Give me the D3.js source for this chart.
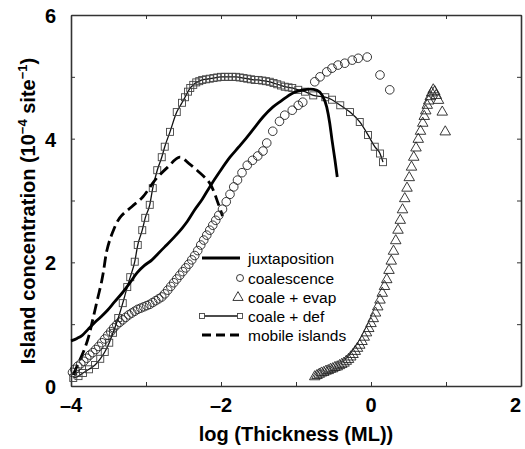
<!DOCTYPE html>
<html><head><meta charset="utf-8">
<script src="https://cdn.jsdelivr.net/npm/d3@7"></script>
<style>body{margin:0;background:#fff}svg{display:block}text{font-family:"Liberation Sans",Arial,sans-serif}</style>
</head><body><div id="chart"></div>
<script>
const xTicks=[-4,-3,-2,-1,0,1,2];
const xTickLabels=[-4,-2,0,2];
const yTicks=[0,1,2,3,4,5,6];
const yTickLabels=[0,2,4,6];
const seriesNames=["juxtaposition","coalescence","coale + evap","coale + def","mobile islands"];

const juxtX=[-4.00,-3.92,-3.85,-3.77,-3.68,-3.60,-3.51,-3.42,-3.32,-3.22,-3.12,-3.02,-2.92,-2.84,-2.75,-2.63,-2.52,-2.45,-2.35,-2.25,-2.15,-2.02,-1.88,-1.76,-1.65,-1.54,-1.44,-1.31,-1.21,-1.04,-0.90,-0.81,-0.72,-0.65,-0.59,-0.55,-0.52,-0.48,-0.45];
const juxtY=[0.73,0.77,0.82,0.92,1.03,1.12,1.23,1.36,1.50,1.66,1.83,1.95,2.04,2.14,2.25,2.40,2.55,2.66,2.85,3.02,3.22,3.46,3.70,3.87,4.03,4.20,4.35,4.51,4.60,4.74,4.79,4.80,4.78,4.70,4.51,4.25,3.98,3.65,3.38];

const coalX=[-3.98,-3.95,-3.91,-3.87,-3.83,-3.79,-3.75,-3.71,-3.67,-3.63,-3.59,-3.55,-3.51,-3.47,-3.43,-3.39,-3.35,-3.31,-3.27,-3.23,-3.19,-3.15,-3.11,-3.07,-3.03,-2.99,-2.95,-2.91,-2.87,-2.83,-2.79,-2.75,-2.71,-2.67,-2.63,-2.59,-2.55,-2.51,-2.47,-2.43,-2.39,-2.35,-2.31,-2.27,-2.23,-2.19,-2.15,-2.11,-2.07,-2.03,-1.98,-1.93,-1.88,-1.83,-1.78,-1.72,-1.65,-1.58,-1.51,-1.44,-1.39,-1.31,-1.22,-1.15,-1.05,-0.97,-0.91,-0.75,-0.68,-0.59,-0.52,-0.44,-0.35,-0.25,-0.17,-0.05,0.12,0.25];
const coalY=[0.22,0.27,0.32,0.36,0.40,0.45,0.50,0.54,0.59,0.64,0.70,0.76,0.82,0.88,0.94,0.99,1.03,1.07,1.11,1.15,1.18,1.21,1.24,1.26,1.28,1.30,1.32,1.35,1.38,1.41,1.44,1.49,1.55,1.61,1.67,1.73,1.79,1.85,1.91,1.97,2.04,2.11,2.19,2.28,2.36,2.44,2.52,2.60,2.68,2.76,2.86,2.98,3.10,3.22,3.33,3.45,3.57,3.65,3.72,3.80,3.93,4.12,4.28,4.38,4.46,4.54,4.59,4.92,5.00,5.08,5.14,5.19,5.22,5.27,5.30,5.32,5.03,4.79];

const evapX=[-0.75,-0.72,-0.69,-0.66,-0.63,-0.60,-0.57,-0.54,-0.51,-0.48,-0.45,-0.42,-0.39,-0.36,-0.33,-0.30,-0.27,-0.24,-0.21,-0.18,-0.15,-0.12,-0.09,-0.06,-0.03,0.00,0.03,0.06,0.09,0.12,0.15,0.18,0.21,0.24,0.27,0.30,0.33,0.36,0.39,0.42,0.45,0.48,0.51,0.54,0.57,0.60,0.63,0.66,0.69,0.71,0.73,0.75,0.77,0.79,0.81,0.83,0.85,0.87,0.90,0.95,0.99];
const evapY=[0.15,0.17,0.19,0.21,0.22,0.24,0.25,0.27,0.28,0.30,0.31,0.33,0.35,0.37,0.40,0.43,0.47,0.51,0.56,0.61,0.66,0.72,0.79,0.86,0.93,1.01,1.09,1.18,1.28,1.39,1.50,1.61,1.72,1.87,2.02,2.18,2.35,2.52,2.68,2.85,3.03,3.20,3.37,3.54,3.70,3.85,3.99,4.12,4.25,4.36,4.45,4.54,4.61,4.68,4.74,4.79,4.76,4.70,4.62,4.43,4.11];

const defX=[-3.97,-3.90,-3.84,-3.76,-3.68,-3.61,-3.55,-3.49,-3.44,-3.37,-3.31,-3.25,-3.21,-3.15,-3.11,-3.05,-3.01,-2.95,-2.91,-2.85,-2.79,-2.75,-2.68,-2.59,-2.52,-2.48,-2.44,-2.41,-2.37,-2.33,-2.29,-2.25,-2.20,-2.15,-2.10,-2.05,-2.00,-1.95,-1.90,-1.85,-1.80,-1.75,-1.70,-1.65,-1.60,-1.55,-1.50,-1.45,-1.40,-1.35,-1.30,-1.25,-1.20,-1.15,-1.10,-1.05,-0.97,-0.88,-0.77,-0.61,-0.52,-0.41,-0.28,-0.15,-0.04,0.05,0.12,0.16];
const defY=[0.13,0.16,0.21,0.27,0.34,0.44,0.55,0.70,0.86,1.10,1.34,1.60,1.76,2.01,2.28,2.52,2.72,2.93,3.20,3.49,3.70,3.87,4.11,4.43,4.58,4.67,4.76,4.82,4.87,4.91,4.93,4.95,4.96,4.97,4.98,4.99,5.00,5.00,5.00,5.00,5.00,4.99,4.98,4.97,4.96,4.95,4.95,4.94,4.93,4.92,4.90,4.88,4.86,4.84,4.83,4.82,4.79,4.76,4.70,4.67,4.63,4.54,4.43,4.27,4.06,3.87,3.76,3.62];

const mobX=[-3.97,-3.92,-3.86,-3.81,-3.76,-3.72,-3.68,-3.64,-3.60,-3.57,-3.52,-3.45,-3.35,-3.19,-3.04,-2.88,-2.71,-2.55,-2.43,-2.32,-2.15,-2.04,-1.98];
const mobY=[0.18,0.32,0.48,0.63,0.82,1.02,1.23,1.44,1.64,1.83,2.20,2.47,2.72,2.90,3.06,3.33,3.54,3.70,3.60,3.49,3.28,2.96,2.75];

const W=525,H=449;
const m={left:71,top:15,right:521,bottom:386};
const x=d3.scaleLinear().domain([-4,2]).range([m.left,m.right]);
const y=d3.scaleLinear().domain([0,6]).range([m.bottom,m.top]);
const svg=d3.select("#chart").append("svg").attr("width",W).attr("height",H);
const zip=(a,b)=>a.map((v,i)=>[v,b[i]]);
const frameColor="#333";

// frame & ticks
const g=svg.append("g");
g.append("g").attr("transform",`translate(0,${m.bottom})`).call(d3.axisBottom(x).tickValues(xTicks).tickSizeInner(-4).tickSizeOuter(0).tickFormat(""));
g.append("g").attr("transform",`translate(0,${m.top})`).call(d3.axisTop(x).tickValues(xTicks).tickSizeInner(-4).tickSizeOuter(0).tickFormat(""));
g.append("g").attr("transform",`translate(${m.left},0)`).call(d3.axisLeft(y).tickValues(yTicks).tickSizeInner(-4).tickSizeOuter(0).tickFormat(""));
g.append("g").attr("transform",`translate(${m.right},0)`).call(d3.axisRight(y).tickValues(yTicks).tickSizeInner(-4).tickSizeOuter(0).tickFormat(""));
g.selectAll(".domain").attr("stroke",frameColor).attr("stroke-width",1.6);
g.selectAll(".tick line").attr("stroke",frameColor).attr("stroke-width",1);

// tick labels (last one kept inside the window)
svg.selectAll(".xl").data(xTickLabels).join("text")
  .attr("x",d=>Math.min(x(d),W-1))
  .attr("y",412)
  .attr("text-anchor",d=>x(d)+6>W?"end":"middle")
  .attr("font-size",20).attr("font-weight","bold")
  .text(d=>d<0?"\u2013"+Math.abs(d):d);
svg.selectAll(".yl").data(yTickLabels).join("text").attr("x",56).attr("y",d=>y(d)+8)
  .attr("text-anchor","end").attr("font-size",20).attr("font-weight","bold").text(d=>d);

// axis titles
svg.append("text").attr("x",296).attr("y",441).attr("text-anchor","middle")
  .attr("font-size",20).attr("font-weight","bold").text("log (Thickness (ML))");
const yt=svg.append("text").attr("transform","translate(35,211) rotate(-90)").attr("text-anchor","middle")
  .attr("font-size",20).attr("font-weight","bold");
yt.append("tspan").text("Island concentration (10");
yt.append("tspan").attr("dy",-8).attr("font-size",13).text("\u22124");
yt.append("tspan").attr("dy",8).text(" site");
yt.append("tspan").attr("dy",-8).attr("font-size",13).text("\u22121");
yt.append("tspan").attr("dy",8).text(")");

const plot=svg.append("g");
// coale + def line
plot.append("path").datum(zip(defX,defY)).attr("fill","none").attr("stroke","#111").attr("stroke-width",1.3)
  .attr("d",d3.line().x(d=>x(d[0])).y(d=>y(d[1])).curve(d3.curveMonotoneX));
plot.selectAll(".sq").data(zip(defX,defY)).join("rect")
  .attr("x",d=>x(d[0])-3.5).attr("y",d=>y(d[1])-3.5).attr("width",7).attr("height",7)
  .attr("fill","none").attr("stroke","#444").attr("stroke-width",0.9);
// juxtaposition
plot.append("path").datum(zip(juxtX,juxtY)).attr("fill","none").attr("stroke","#000").attr("stroke-width",2.8)
  .attr("d",d3.line().x(d=>x(d[0])).y(d=>y(d[1])).curve(d3.curveMonotoneX));
// mobile islands
plot.append("path").datum(zip(mobX,mobY)).attr("fill","none").attr("stroke","#000").attr("stroke-width",2.8)
  .attr("stroke-dasharray","11,5")
  .attr("d",d3.line().x(d=>x(d[0])).y(d=>y(d[1])).curve(d3.curveCatmullRom));
// coalescence
plot.selectAll(".ci").data(zip(coalX,coalY)).join("circle")
  .attr("cx",d=>x(d[0])).attr("cy",d=>y(d[1])).attr("r",4.3)
  .attr("fill","none").attr("stroke","#222").attr("stroke-width",0.9);
// coale + evap
const tri=d3.symbol().type(d3.symbolTriangle).size(48);
plot.selectAll(".tr").data(zip(evapX,evapY)).join("path")
  .attr("transform",d=>`translate(${x(d[0])},${y(d[1])})`).attr("d",tri)
  .attr("fill","none").attr("stroke","#222").attr("stroke-width",0.9);

// legend
const lg=svg.append("g");
const rows=[258,278,297,316,335];
const lx0=202,lx1=240;
lg.selectAll("text").data(seriesNames).join("text").attr("x",248).attr("y",(d,i)=>rows[i]+5.5)
  .attr("font-size",15.5).text(d=>d);
lg.append("line").attr("x1",lx0).attr("x2",lx1).attr("y1",rows[0]).attr("y2",rows[0]).attr("stroke","#000").attr("stroke-width",2.8);
lg.append("circle").attr("cx",240).attr("cy",rows[1]).attr("r",3.5).attr("fill","none").attr("stroke","#222").attr("stroke-width",0.9);
lg.append("path").attr("transform",`translate(238,${rows[2]+0.5})`).attr("d",d3.symbol().type(d3.symbolTriangle).size(45))
  .attr("fill","none").attr("stroke","#222").attr("stroke-width",0.9);
lg.append("line").attr("x1",lx0).attr("x2",lx1).attr("y1",rows[3]).attr("y2",rows[3]).attr("stroke","#111").attr("stroke-width",1.3);
[lx0,lx1].forEach(v=>lg.append("rect").attr("x",v-2.5).attr("y",rows[3]-2.5).attr("width",5).attr("height",5).attr("fill","#fff").attr("stroke","#444").attr("stroke-width",0.9));
lg.append("line").attr("x1",lx0).attr("x2",lx1).attr("y1",rows[4]).attr("y2",rows[4]).attr("stroke","#000").attr("stroke-width",2.8).attr("stroke-dasharray","9,5");
</script></body></html>
